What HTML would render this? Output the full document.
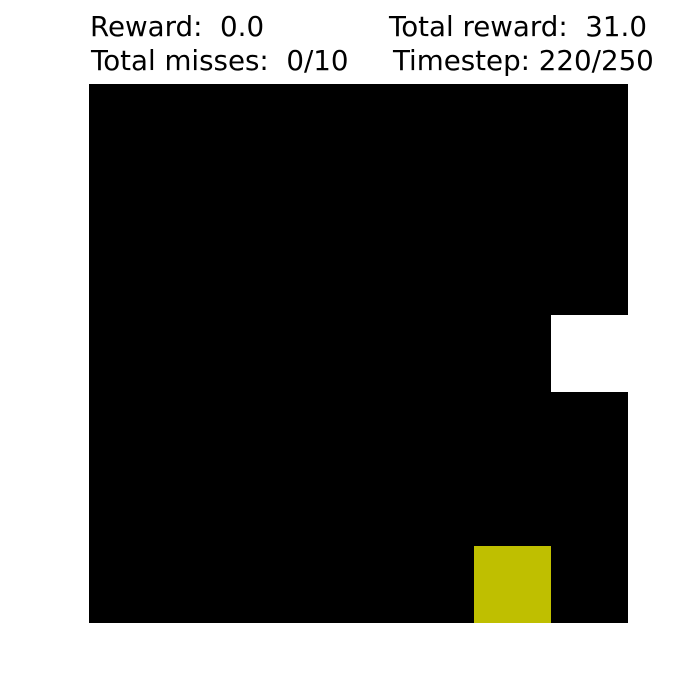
<!DOCTYPE html>
<html><head><meta charset="utf-8"><style>
html,body{margin:0;padding:0;background:#fff;width:700px;height:700px;overflow:hidden}
svg text{font-family:"DejaVu Sans","Liberation Sans",sans-serif;font-size:27.7px;fill:#000;white-space:pre}
</style></head><body>
<svg id="chart" width="700" height="700" xmlns="http://www.w3.org/2000/svg">
<text x="90" y="36" xml:space="preserve">Reward:  0.0</text>
<text x="389" y="36" xml:space="preserve">Total reward:  31.0</text>
<text x="91" y="70" xml:space="preserve">Total misses:  0/10</text>
<text x="393" y="70" xml:space="preserve">Timestep: 220/250</text>
<rect x="89" y="84" width="539" height="539" fill="#000"/>
</svg>
<script>
const gridSize = 7;
const objectNames = ["falling-ball", "paddle"];
const objectCols = [6, 5];
const objectRows = [3, 6];
const objectColors = ["#ffffff", "#bfbf00"];
const svg = document.getElementById('chart');
const x0 = 89, y0 = 84, W = 539;
const cell = W / gridSize;
function xs(c){ return x0 + c * cell; }
function ys(r){ return y0 + r * cell; }
for (let i = 0; i < objectNames.length; i++) {
  const r = document.createElementNS('http://www.w3.org/2000/svg', 'rect');
  r.setAttribute('x', xs(objectCols[i]));
  r.setAttribute('y', ys(objectRows[i]));
  r.setAttribute('width', cell);
  r.setAttribute('height', cell);
  r.setAttribute('fill', objectColors[i]);
  
  
  svg.appendChild(r);
}
</script>
</body></html>
